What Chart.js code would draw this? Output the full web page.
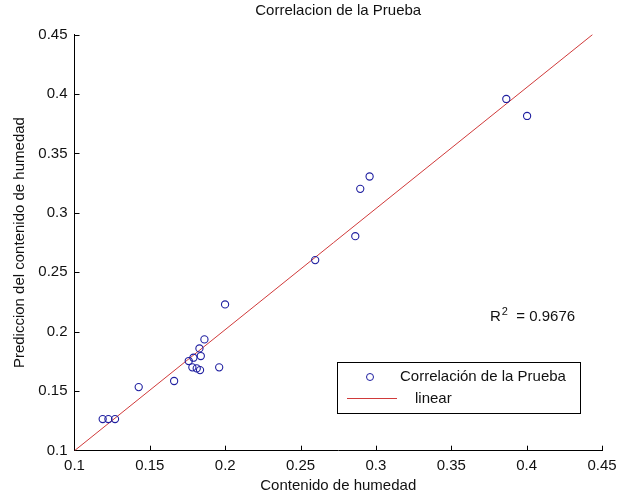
<!DOCTYPE html>
<html>
<head>
<meta charset="utf-8">
<script src="https://cdn.jsdelivr.net/npm/chart.js@4/dist/chart.umd.min.js"></script>
<style>
  html, body { margin: 0; padding: 0; background: #fff; }
  #wrap { width: 628px; height: 495px; }
</style>
</head>
<body>
<div id="wrap"><canvas id="chart" width="628" height="495"></canvas></div>
<script>
// valeurs
const humedad = [0.1187, 0.1225, 0.1269, 0.1426, 0.1661, 0.1758, 0.1789, 0.1782, 0.1811, 0.1833, 0.1838,
                 0.1829, 0.1862, 0.1960, 0.1999, 0.2597, 0.2863, 0.2896, 0.2958, 0.3865, 0.4003];
const prediccion = [0.1266, 0.1266, 0.1266, 0.1535, 0.1586, 0.1754, 0.1782, 0.1701, 0.1692, 0.1678, 0.1796,
                    0.1860, 0.1936, 0.1701, 0.2230, 0.2603, 0.2804, 0.3202, 0.3306, 0.3958, 0.3815];
// droite d'ajustement (extrémités)
const fitX = [0.1, 0.4438];
const fitY = [0.1, 0.45];
const ticksXY = [0.1, 0.15, 0.2, 0.25, 0.3, 0.35, 0.4, 0.45];
const r2Value = "0.9676";

const FONT = "'Liberation Sans', Arial, sans-serif";
const ink = "#111";

const points = humedad.map((x, i) => ({ x: x, y: prediccion[i] }));
const fitLine = fitX.map((x, i) => ({ x: x, y: fitY[i] }));

// petits traits de graduation vers l'intérieur, légende et R²
const matlabDeco = {
  id: "matlabDeco",
  afterDraw(chart) {
    const ctx = chart.ctx;
    const area = chart.chartArea;
    const xs = chart.scales.x, ys = chart.scales.y;
    ctx.save();
    ctx.strokeStyle = "#000";
    ctx.lineWidth = 1;
    ctx.beginPath();
    ticksXY.slice(1).forEach(v => {
      const px = Math.round(xs.getPixelForValue(v)) + 0.5;
      ctx.moveTo(px, area.bottom);
      ctx.lineTo(px, area.bottom - 5);
      const py = Math.round(ys.getPixelForValue(v)) + 0.5;
      ctx.moveTo(area.left, py);
      ctx.lineTo(area.left + 5, py);
    });
    ctx.stroke();

    // R²
    ctx.fillStyle = ink;
    ctx.textBaseline = "middle";
    ctx.textAlign = "left";
    let rx = area.right - 112, ry = 317;
    ctx.font = "15px " + FONT;
    ctx.fillText("R", rx, ry);
    rx += ctx.measureText("R").width + 1;
    ctx.font = "11px " + FONT;
    ctx.fillText("2", rx, ry - 5);
    rx += ctx.measureText("2").width;
    ctx.font = "15px " + FONT;
    ctx.fillText("  = " + r2Value, rx, ry);

    // légende
    const bx = 337.5, by = 362.5, bw = 243, bh = 51;
    ctx.fillStyle = "#fff";
    ctx.fillRect(bx, by, bw, bh);
    ctx.strokeStyle = "#000";
    ctx.strokeRect(bx, by, bw, bh);
    ctx.strokeStyle = "#1f1fa0";
    ctx.beginPath();
    ctx.arc(370, 377, 3.5, 0, Math.PI * 2);
    ctx.stroke();
    ctx.strokeStyle = "#d03a3a";
    ctx.beginPath();
    ctx.moveTo(347, 398.5);
    ctx.lineTo(397, 398.5);
    ctx.stroke();
    ctx.fillStyle = ink;
    ctx.font = "15px " + FONT;
    ctx.fillText("Correlación de la Prueba", 400, 377);
    ctx.fillText("linear", 415, 399);
    ctx.restore();
  }
};

new Chart(document.getElementById("chart"), {
  type: "scatter",
  data: {
    datasets: [
      {
        label: "Correlación de la Prueba",
        data: points,
        pointStyle: "circle",
        pointRadius: 3.6,
        pointBorderWidth: 1.1,
        pointBackgroundColor: "rgba(0,0,0,0)",
        pointBorderColor: "#1f1fa0",
        showLine: false,
        order: 1
      },
      {
        label: "linear",
        data: fitLine,
        type: "line",
        showLine: true,
        borderColor: "#d03a3a",
        borderWidth: 1,
        pointRadius: 0,
        fill: false,
        order: 2
      }
    ]
  },
  options: {
    responsive: false,
    animation: false,
    layout: { padding: { left: 0, right: 26, top: 0, bottom: 0 } },
    plugins: {
      legend: { display: false },
      tooltip: { enabled: false },
      title: {
        display: true,
        fullSize: false,
        text: "Correlacion de la Prueba",
        color: ink,
        font: { family: FONT, size: 15, weight: "normal" },
        padding: { top: 2, bottom: 14.5 }
      }
    },
    scales: {
      x: {
        type: "linear",
        min: 0.1,
        max: 0.45,
        afterBuildTicks: s => { s.ticks = ticksXY.map(v => ({ value: v })); },
        afterFit: s => { s.height = 44.3; },
        grid: { display: false, drawTicks: false },
        border: { display: true, color: "#000", width: 1 },
        ticks: {
          color: ink,
          padding: 6,
          font: { family: FONT, size: 15 },
          callback: v => String(parseFloat(v.toFixed(2)))
        },
        title: {
          display: true,
          text: "Contenido de humedad",
          color: ink,
          font: { family: FONT, size: 15 },
          padding: { top: 1, bottom: 0 }
        }
      },
      y: {
        type: "linear",
        min: 0.1,
        max: 0.45,
        afterBuildTicks: s => { s.ticks = ticksXY.map(v => ({ value: v })); },
        afterFit: s => { s.width = 74.5; },
        grid: { display: false, drawTicks: false },
        border: { display: true, color: "#000", width: 1 },
        ticks: {
          color: ink,
          padding: 7,
          font: { family: FONT, size: 15 },
          callback: v => String(parseFloat(v.toFixed(2)))
        },
        title: {
          display: true,
          text: "Prediccion del contenido de humedad",
          color: ink,
          font: { family: FONT, size: 15 },
          padding: { top: 11, bottom: 0 }
        }
      }
    }
  },
  plugins: [matlabDeco]
});
</script>
</body>
</html>
